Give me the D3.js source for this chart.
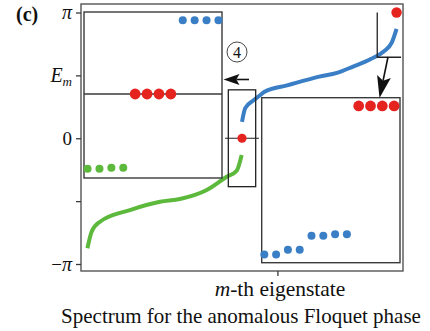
<!DOCTYPE html>
<html><head><meta charset="utf-8">
<script src="https://cdn.jsdelivr.net/npm/d3@7"></script>
<style>
body{margin:0;background:#fff}
svg{display:block;background:#fff}
text{font-family:"Liberation Serif","Times New Roman",serif;fill:#111}
</style>
</head><body><svg id="c" width="430" height="331"></svg>
<script>
// ---- data (energies in units of pi) ----
const yTickValues = [1, 0.5, 0, -0.5, -1];
const yTickLabels = ["π", "E_m", "0", "", "−π"];
const xTickValues = [122];

const blueM = [100, 102, 107, 111, 114, 128, 148, 159, 169, 180, 188, 193, 196];
const blueE = [0.13, 0.24, 0.30, 0.34, 0.37, 0.42, 0.49, 0.52, 0.57, 0.63, 0.69, 0.76, 0.87];

const greenM = [4, 6.6, 11.8, 30.4, 49.1, 61.5, 78.1, 90.5, 96.7, 99.8];
const greenE = [-0.875, -0.743, -0.664, -0.571, -0.505, -0.483, -0.412, -0.306, -0.258, -0.133];

const redM = [100, 196];
const redE = [0, 1];

// inset 1 (zoom of the ④ box)
const inset1Index = [0, 1, 2, 3, 4, 5, 6, 7, 8, 9, 10, 11];
const inset1E = [-0.89, -0.89, -0.875, -0.875, 0, 0, 0, 0, 0.9, 0.9, 0.9, 0.9];
const inset1Series = ["g", "g", "g", "g", "r", "r", "r", "r", "b", "b", "b", "b"];

// inset 2 (zoom of the top-right box)
const inset2Index = [0, 1, 2, 3, 4, 5, 6, 7, 8, 9, 10, 11];
const inset2E = [-0.9, -0.9, -0.842, -0.842, -0.673, -0.673, -0.656, -0.656, 0.9, 0.9, 0.9, 0.9];
const inset2Series = ["b", "b", "b", "b", "b", "b", "b", "b", "r", "r", "r", "r"];

// ---- drawing ----
const BLUE = "#3a7fc6", GREEN = "#5cb93b", RED = "#e52420", INK = "#3a3a3a";
const colorOf = {b: BLUE, g: GREEN, r: RED};
const radiusOf = {b: 4, g: 4, r: 5.4};

const svg = d3.select("#c");
const x = d3.scaleLinear([0, 200], [81, 403]);
const y = d3.scaleLinear([-1, 1], [264, 12.5]);

// frame
svg.append("rect").attr("x", 81).attr("y", 4).attr("width", 322).attr("height", 267)
  .attr("fill", "none").attr("stroke", "#555").attr("stroke-width", 1.4);

// y axis
const ya = svg.append("g").attr("transform", "translate(81,0)")
  .call(d3.axisLeft(y).tickValues(yTickValues).tickSize(5).tickPadding(4).tickFormat(() => ""));
ya.select(".domain").remove();
ya.selectAll(".tick line").attr("stroke", INK).attr("stroke-width", 1.3);
ya.selectAll(".tick text").each(function(d, i) {
  const t = d3.select(this).attr("font-size", 19).attr("font-family", "Liberation Serif").attr("fill", "#111");
  const lab = yTickLabels[i];
  if (lab === "E_m") {
    t.append("tspan").attr("font-style", "italic").attr("font-size", 20).text("E");
    t.append("tspan").attr("font-style", "italic").attr("font-size", 13).attr("dy", 4).text("m");
  } else if (lab.includes("π")) {
    const parts = lab.split("π");
    if (parts[0]) t.append("tspan").text(parts[0]);
    t.append("tspan").attr("font-style", "italic").attr("font-size", 20).text("π");
  } else {
    t.text(lab);
  }
});

// x axis
const xa = svg.append("g").attr("transform", "translate(0,271)")
  .call(d3.axisBottom(x).tickValues(xTickValues).tickSize(5).tickFormat(() => ""));
xa.select(".domain").remove();
xa.selectAll(".tick line").attr("stroke", INK).attr("stroke-width", 1.3);

// curves
const line = d3.line().x(d => x(d[0])).y(d => y(d[1])).curve(d3.curveMonotoneX);
svg.append("path").datum(greenM.map((m, i) => [m, greenE[i]]))
  .attr("d", line).attr("fill", "none").attr("stroke", GREEN).attr("stroke-width", 4);
svg.append("path").datum(blueM.map((m, i) => [m, blueE[i]]))
  .attr("d", line).attr("fill", "none").attr("stroke", BLUE).attr("stroke-width", 4);

// middle box (④ region)
svg.append("rect").attr("x", x(91.5)).attr("y", y(0.385))
  .attr("width", x(108.5) - x(91.5)).attr("height", y(-0.385) - y(0.385))
  .attr("fill", "none").attr("stroke", "#222").attr("stroke-width", 1.3);
svg.append("line").attr("x1", x(89.5)).attr("x2", x(110.5)).attr("y1", y(0)).attr("y2", y(0))
  .attr("stroke", "#222").attr("stroke-width", 1.2);

// top-right box (left + bottom edges)
svg.append("path").attr("d", `M${x(184)},${y(1)}V${y(0.644)}H${x(198.8)}`)
  .attr("fill", "none").attr("stroke", "#222").attr("stroke-width", 1.3);

// red dots on main plot
svg.selectAll(".mainred").data(redM).join("circle")
  .attr("cx", d => x(d)).attr("cy", (d, i) => y(redE[i])).attr("r", (d, i) => i === 0 ? 4.6 : 5.2)
  .attr("fill", RED);

// inset 1
const ix1 = d3.scaleLinear([-0.3, 11.3], [84, 222]);
const iy1 = d3.scaleLinear([-1, 1], [178, 12]);
svg.append("rect").attr("x", 84).attr("y", 12).attr("width", 138).attr("height", 166)
  .attr("fill", "#fff").attr("stroke", INK).attr("stroke-width", 1.4);
svg.append("line").attr("x1", 84).attr("x2", 222).attr("y1", iy1(0) - 1).attr("y2", iy1(0) - 1)
  .attr("stroke", INK).attr("stroke-width", 1.3);
svg.append("g").selectAll("circle").data(inset1Index).join("circle")
  .attr("cx", d => ix1(d)).attr("cy", (d, i) => iy1(inset1E[i]) - (inset1Series[i] === "r" ? 1 : 0))
  .attr("r", (d, i) => radiusOf[inset1Series[i]]).attr("fill", (d, i) => colorOf[inset1Series[i]]);

// inset 2
const ix2 = d3.scaleLinear([-0.22, 11.5], [261.7, 400]);
const iy2 = d3.scaleLinear([-1, 1], [262.7, 97.7]);
svg.append("rect").attr("x", 261.7).attr("y", 97.7).attr("width", 138.3).attr("height", 165)
  .attr("fill", "#fff").attr("stroke", INK).attr("stroke-width", 1.4);
svg.append("g").selectAll("circle").data(inset2Index).join("circle")
  .attr("cx", d => ix2(d)).attr("cy", (d, i) => iy2(inset2E[i]))
  .attr("r", (d, i) => radiusOf[inset2Series[i]]).attr("fill", (d, i) => colorOf[inset2Series[i]]);

// arrows
function arrow(x1, y1, x2, y2, len, half) {
  const dx = x2 - x1, dy = y2 - y1, L = Math.hypot(dx, dy), ux = dx / L, uy = dy / L;
  const nx = -uy, ny = ux;
  const bx = x2 - len * ux, by = y2 - len * uy;
  const kx = x2 - len * 0.8 * ux, ky = y2 - len * 0.8 * uy;
  svg.append("line").attr("x1", x1).attr("y1", y1).attr("x2", kx).attr("y2", ky)
    .attr("stroke", "#111").attr("stroke-width", 1.6);
  svg.append("path").attr("d", `M${x2},${y2}L${bx + half * nx},${by + half * ny}L${kx},${ky}L${bx - half * nx},${by - half * ny}Z`)
    .attr("fill", "#111");
}
arrow(249, 79.5, 223.5, 79.5, 16, 5.5);
arrow(388, 57, 379.5, 98, 22, 7);

// ④ label (circle + digit)
svg.append("circle").attr("cx", 237).attr("cy", 52).attr("r", 10)
  .attr("fill", "none").attr("stroke", "#333").attr("stroke-width", 0.9);
svg.append("text").attr("x", 237).attr("y", 57.5).attr("text-anchor", "middle")
  .attr("font-size", 16).attr("fill", "#333").text("4");

// panel label
svg.append("text").attr("x", 16).attr("y", 21).attr("font-size", 20).attr("font-weight", "bold").text("(c)");

// x axis label
const xl = svg.append("text").attr("x", 280).attr("y", 296).attr("text-anchor", "middle").attr("font-size", 21.5);
xl.append("tspan").attr("font-style", "italic").text("m");
xl.append("tspan").text("-th eigenstate");

// caption
svg.append("text").attr("x", 241).attr("y", 323).attr("text-anchor", "middle").attr("font-size", 21)
  .text("Spectrum for the anomalous Floquet phase");
</script>
</body></html>
